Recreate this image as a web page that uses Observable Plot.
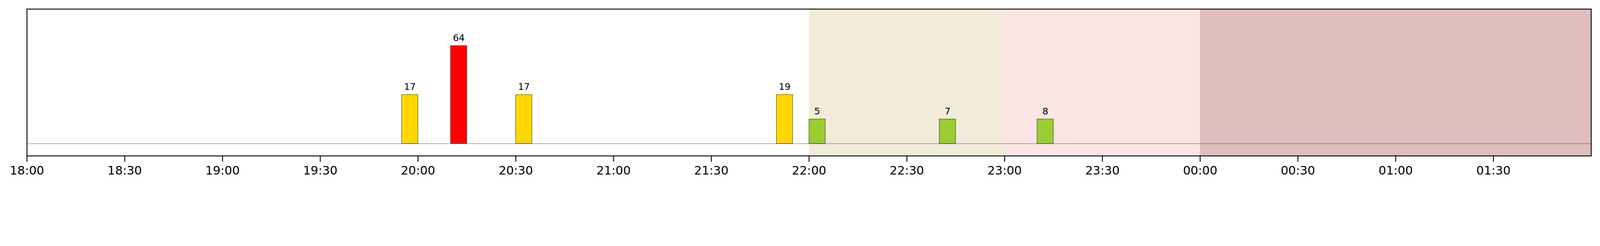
<!DOCTYPE html>
<html>
<head>
<meta charset="utf-8">
<script src="https://cdn.jsdelivr.net/npm/d3@7"></script>
<script src="https://cdn.jsdelivr.net/npm/@observablehq/plot@0.6"></script>
<style>
  html, body { margin: 0; padding: 0; background: #fff; overflow: hidden; }
  #chart svg { display: block; }
</style>
</head>
<body>
<div id="chart"></div>
<script>
// ---- data ----
const barStart = ["19:55", "20:10", "20:30", "21:50", "22:00", "22:40", "23:10"];
const barCount = [17, 64, 17, 19, 5, 7, 8];
const barLevel = [2, 4, 2, 2, 1, 1, 1];
const barColor = ["#ffd700", "#ff0000", "#ffd700", "#ffd700", "#9acd32", "#9acd32", "#9acd32"];
const barMinutes = 5;

const bandStart = ["22:00", "23:00", "00:00"];
const bandEnd = ["23:00", "00:00", "02:00"];
const bandColor = ["#f2ebda", "#fae4e4", "#e0bdbd"];

const tickLabels = ["18:00", "18:30", "19:00", "19:30", "20:00", "20:30", "21:00", "21:30",
  "22:00", "22:30", "23:00", "23:30", "00:00", "00:30", "01:00", "01:30"];

const domainStart = "18:00";
const domainEnd = "02:00";

// times before noon belong to the next day
function toDate(hm) {
  const [h, m] = hm.split(":").map(Number);
  const day = h < 12 ? 2 : 1;
  return new Date(Date.UTC(2024, 0, day, h, m));
}

const bars = barStart.map((s, i) => {
  const t0 = toDate(s);
  return {
    x1: t0,
    x2: new Date(+t0 + barMinutes * 60000),
    xm: new Date(+t0 + barMinutes * 30000),
    count: barCount[i],
    level: barLevel[i],
    color: barColor[i]
  };
});
const bands = bandStart.map((s, i) => ({x1: toDate(s), x2: toDate(bandEnd[i]), color: bandColor[i]}));

const chart = Plot.plot({
  width: 5370,
  height: 630,
  marginLeft: 90,
  marginRight: 30,
  marginTop: 30,
  marginBottom: 107,
  style: {fontFamily: "DejaVu Sans", background: "#fff"},
  x: {
    type: "utc",
    domain: [toDate(domainStart), toDate(domainEnd)],
    label: null
  },
  y: {domain: [-0.5, 5.5], axis: null},
  marks: [
    Plot.rect(bands, {x1: "x1", x2: "x2", fill: "color"}),
    Plot.ruleY([0], {stroke: "#333", strokeWidth: 1}),
    Plot.rectY(bars, {x1: "x1", x2: "x2", y1: 0, y2: "level", fill: "color", stroke: "#000", strokeWidth: 1, inset: 0}),
    Plot.text(bars, {x: "xm", y: "level", text: d => String(d.count), dy: -16, lineAnchor: "bottom", fontSize: 31, fill: "#000"}),
    Plot.axisX({
      ticks: tickLabels.map(toDate),
      tickFormat: d3.utcFormat("%H:%M"),
      tickSize: 20,
      tickPadding: 14,
      strokeWidth: 3,
      fontSize: 40,
      fill: "#000",
      stroke: "#000",
      label: null
    }),
    Plot.frame({stroke: "#000", strokeWidth: 3})
  ]
});
document.getElementById("chart").appendChild(chart);
</script>
</body>
</html>
